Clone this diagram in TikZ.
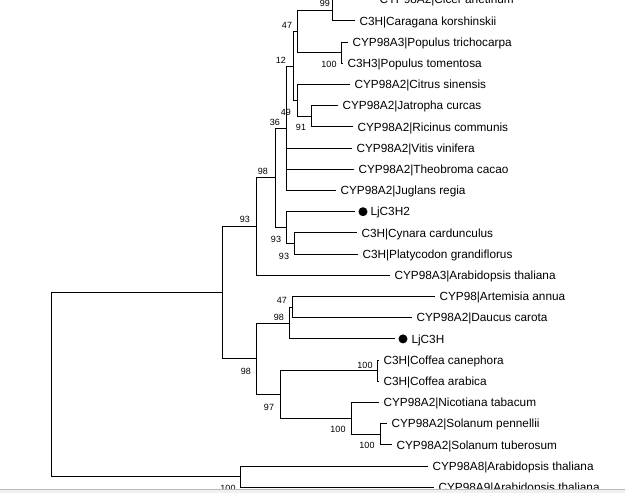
\documentclass[tikz,border=0pt]{standalone}
\usepackage{fontspec}
\setmainfont{Liberation Sans}
\usepackage{tikz}

\begin{document}
\begin{tikzpicture}[x=1pt,y=-1pt,line width=1pt,
  every node/.style={font=\fontsize{11.8}{12}\selectfont},
  leaf/.style={anchor=west,inner xsep=4.5pt,inner ysep=0pt,xshift=-4.5pt,text height=8.4pt,text depth=0pt},
  leafdot/.style={circle,fill=black,minimum size=9pt,inner sep=0pt,outer sep=3.5pt},
  boot/.style={font=\fontsize{9}{10}\selectfont,inner sep=0pt,text height=6.4pt,text depth=0pt}]
\useasboundingbox (0,0) rectangle (625,493);
\clip (0,0) rectangle (625,493);
% leaves
\node[leaf] (cicer) at (379,-0.3) {CYP98A2|Cicer arietinum};
\node[leaf] (caragana) at (359,20.9) {C3H|Caragana korshinskii};
\node[leaf] (poptri) at (352,42.1) {CYP98A3|Populus trichocarpa};
\node[leaf] (poptom) at (347,63.3) {C3H3|Populus tomentosa};
\node[leaf] (citrus) at (354,84.5) {CYP98A2|Citrus sinensis};
\node[leaf] (jatropha) at (342,105.7) {CYP98A2|Jatropha curcas};
\node[leaf] (ricinus) at (357,126.9) {CYP98A2|Ricinus communis};
\node[leaf] (vitis) at (356,148.1) {CYP98A2|Vitis vinifera};
\node[leaf] (theobroma) at (358,169.3) {CYP98A2|Theobroma cacao};
\node[leaf] (juglans) at (340,190.5) {CYP98A2|Juglans regia};
\node[leafdot] (ljdot2) at (363,211.7) {};
\node[leaf] (ljc3h2) at (370,211.7) {LjC3H2};
\node[leaf] (cynara) at (361,232.9) {C3H|Cynara cardunculus};
\node[leaf] (platycodon) at (362,254.1) {C3H|Platycodon grandiflorus};
\node[leaf] (arathA3) at (394,275.3) {CYP98A3|Arabidopsis thaliana};
\node[leaf] (artemisia) at (439,296.5) {CYP98|Artemisia annua};
\node[leaf] (daucus) at (416,317.7) {CYP98A2|Daucus carota};
\node[leafdot] (ljdot) at (403,338.9) {};
\node[leaf] (ljc3h) at (411,338.9) {LjC3H};
\node[leaf] (cofcan) at (383,360.1) {C3H|Coffea canephora};
\node[leaf] (cofara) at (383,381.3) {C3H|Coffea arabica};
\node[leaf] (nicotiana) at (383,402.5) {CYP98A2|Nicotiana tabacum};
\node[leaf] (solpen) at (391,423.7) {CYP98A2|Solanum pennellii};
\node[leaf] (soltub) at (396,444.9) {CYP98A2|Solanum tuberosum};
\node[leaf] (arathA8) at (432,466.1) {CYP98A8|Arabidopsis thaliana};
\node[leaf] (arathA9) at (438,487.3) {CYP98A9|Arabidopsis thaliana};
% internal nodes
\coordinate (n99) at (332,10.3);
\coordinate (n100p) at (341,52.7);
\coordinate (n47) at (297,31.5);
\coordinate (n91) at (311,116.3);
\coordinate (n49) at (297,100.4);
\coordinate (n12) at (293,66);
\coordinate (n36) at (286,128.2);
\coordinate (n93c) at (294,243.5);
\coordinate (n93b) at (286,227.6);
\coordinate (n98a) at (275,177.9);
\coordinate (n93a) at (256,226.6);
\coordinate (n47b) at (292,307.1);
\coordinate (n98b) at (289,323);
\coordinate (n100c) at (377,370.7);
\coordinate (n100s) at (380,434.3);
\coordinate (n100n) at (351,418.4);
\coordinate (n97) at (280,394.5);
\coordinate (n98c) at (256,358.8);
\coordinate (nA) at (222,292.7);
\coordinate (n100a) at (240,476.7);
\coordinate (root) at (51,384.7);
% branches
\draw (root) |- (nA);
\draw (root) |- (n100a);
\draw (n100a) |- (arathA8.west);
\draw (n100a) |- (arathA9.west);
\draw (nA) |- (n93a);
\draw (nA) |- (n98c);
\draw (n93a) |- (n98a);
\draw (n93a) |- (arathA3.west);
\draw (n98a) |- (n36);
\draw (n98a) |- (n93b);
\draw (n36) |- (n12);
\draw (n36) |- (vitis.west);
\draw (n36) |- (theobroma.west);
\draw (n36) |- (juglans.west);
\draw (n12) |- (n47);
\draw (n12) |- (n49);
\draw (n47) |- (n99);
\draw (n47) |- (n100p);
\draw (n99) |- (cicer.west);
\draw (n99) |- (caragana.west);
\draw (n100p) |- (poptri.west);
\draw (n100p) |- (poptom.west);
\draw (n49) |- (citrus.west);
\draw (n49) |- (n91);
\draw (n91) |- (jatropha.west);
\draw (n91) |- (ricinus.west);
\draw (n93b) |- (ljdot2.west);
\draw (n93b) |- (n93c);
\draw (n93c) |- (cynara.west);
\draw (n93c) |- (platycodon.west);
\draw (n98c) |- (n98b);
\draw (n98c) |- (n97);
\draw (n98b) |- (n47b);
\draw (n98b) |- (ljdot.west);
\draw (n47b) |- (artemisia.west);
\draw (n47b) |- (daucus.west);
\draw (n97) |- (n100c);
\draw (n97) |- (n100n);
\draw (n100c) |- (cofcan.west);
\draw (n100c) |- (cofara.west);
\draw (n100n) |- (nicotiana.west);
\draw (n100n) |- (n100s);
\draw (n100s) |- (solpen.west);
\draw (n100s) |- (soltub.west);
% bootstrap values
\node[boot] (b99) at (325,3) {99};
\node[boot] (b47) at (287,25) {47};
\node[boot] (b100p) at (329,64) {100};
\node[boot] (b12) at (281,60) {12};
\node[boot] (b49) at (286,112) {49};
\node[boot] (b91) at (301,127) {91};
\node[boot] (b36) at (275,122) {36};
\node[boot] (b98a) at (263,171) {98};
\node[boot] (b93b) at (276,239) {93};
\node[boot] (b93c) at (284,256) {93};
\node[boot] (b93a) at (245,219) {93};
\node[boot] (b47b) at (282,300) {47};
\node[boot] (b98b) at (279,317) {98};
\node[boot] (b98c) at (246,371) {98};
\node[boot] (b97) at (269,407) {97};
\node[boot] (b100c) at (365,365) {100};
\node[boot] (b100n) at (338,429) {100};
\node[boot] (b100s) at (367,445) {100};
\node[boot] (b100a) at (228,488) {100};
% window edge
\fill[gray!12] (0,489) rectangle (625,493);
\draw[gray!55] (0,489.5) -- (625,489.5);
\end{tikzpicture}
\end{document}
